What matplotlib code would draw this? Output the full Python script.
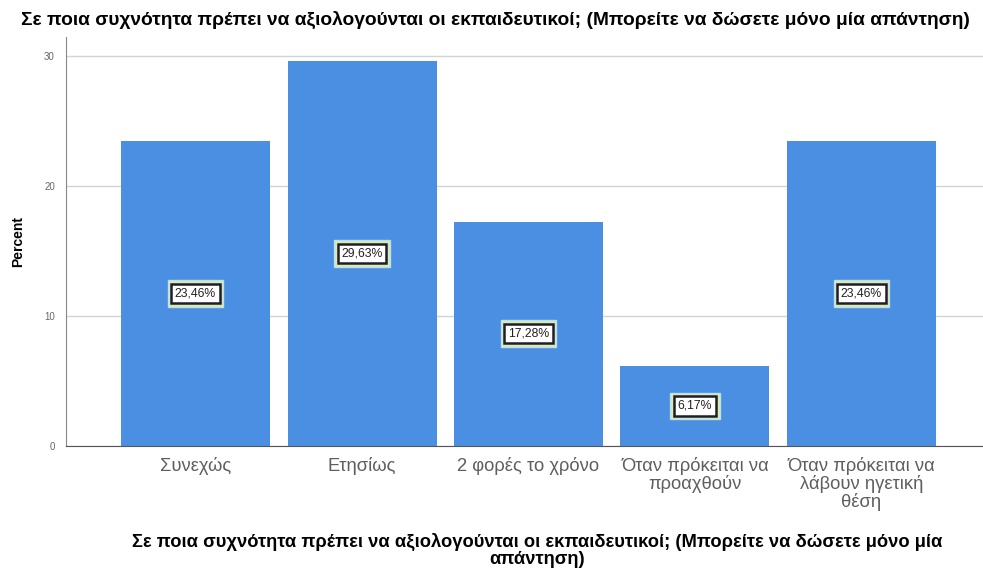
import numpy as np
import matplotlib.pyplot as plt

plt.rcParams['font.family'] = ['Liberation Sans', 'DejaVu Sans']

# answers and their share of respondents (%)
categories = ["Συνεχώς", "Ετησίως", "2 φορές το χρόνο",
              "Όταν πρόκειται να\nπροαχθούν",
              "Όταν πρόκειται να\nλάβουν ηγετική\nθέση"]
percent = [23.46, 29.63, 17.28, 6.17, 23.46]
yticks = [0, 10, 20, 30]

question = "Σε ποια συχνότητα πρέπει να αξιολογούνται οι εκπαιδευτικοί; (Μπορείτε να δώσετε μόνο μία απάντηση)"
xlabel_text = ("Σε ποια συχνότητα πρέπει να αξιολογούνται οι εκπαιδευτικοί; (Μπορείτε να δώσετε μόνο μία\n"
               "απάντηση)")

W, H = 983, 573
fig = plt.figure(figsize=(W / 100, H / 100), dpi=100)
ax = fig.add_axes([66 / W, 1 - 446 / H, 925 / W, 409 / H])

x = np.arange(len(categories))
ax.bar(x, percent, width=0.895, color='#4a8fe2', zorder=2)

# value boxes in the middle of each bar
for xi, v in zip(x, percent):
    lab = "{:.2f}%".format(v).replace(".", ",")
    ax.text(xi, v / 2, lab, ha='center', va='center', fontsize=8.8, color='none',
            bbox=dict(boxstyle='square,pad=0.6', fc='#dfe9a8', ec='#b8e0f0', lw=1.0), zorder=3)
    ax.text(xi, v / 2, lab, ha='center', va='center', fontsize=8.8, color='#222222',
            bbox=dict(boxstyle='square,pad=0.3', fc='white', ec='#1d1d2e', lw=1.8), zorder=4)

ax.set_xlim(-0.778, len(categories) - 1 + 0.778)
ax.set_ylim(0, 31.5)
ax.set_yticks(yticks)
ax.set_yticklabels([str(t) for t in yticks], fontsize=7, color='#666666')
ax.set_xticks(x)
ax.set_xticklabels(categories, fontsize=13.2, color='#5e5e5e', linespacing=1.0)
ax.tick_params(axis='both', length=0)
ax.tick_params(axis='x', pad=8)
ax.tick_params(axis='y', pad=8)
ax.yaxis.grid(True, color='#d4d4d4', lw=1.0, zorder=0)

for s in ['top', 'right']:
    ax.spines[s].set_visible(False)
ax.spines['left'].set_color('#888888')
ax.spines['bottom'].set_color('#555555')

ax.set_ylabel("Percent", fontsize=10, fontweight='bold', labelpad=14)

fig.text(495 / W, 1 - 20 / H, question, ha='center', va='center', fontsize=13.8, fontweight='bold')
fig.text(537 / W, 1 - 550 / H, xlabel_text, ha='center', va='center', fontsize=13.2,
         fontweight='bold', linespacing=1.0)

fig.savefig("out.png", dpi=100)
